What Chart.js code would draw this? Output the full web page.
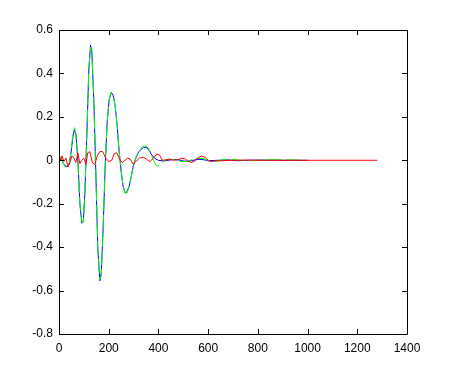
<!DOCTYPE html>
<html>
<head>
<meta charset="utf-8">
<script src="https://cdn.jsdelivr.net/npm/chart.js@4/dist/chart.umd.min.js"></script>
<style>
html,body{margin:0;padding:0;background:#fff;}
#wrap{width:450px;height:375px;position:relative;}
</style>
</head>
<body>
<div id="wrap"><canvas id="c" width="450" height="375"></canvas></div>
<script>
// ---- data ----
const blueX = [0,8,16,24,32,40,48,56,62,68,76,84,92,98,104,112,120,127,132,140,148,156,164,170,178,186,194,202,210,218,226,234,242,250,258,266,274,282,290,298,306,314,322,330,340,350,360,370,380,390,400,420,440,460,480,500,520,540,560,580,600,640,680,720,760,800,900,1000];
const blueY = [0,0.01,-0.01,-0.025,-0.03,-0.02,0.03,0.11,0.14,0.12,0,-0.2,-0.29,-0.28,-0.15,0.12,0.42,0.53,0.5,0.28,-0.05,-0.4,-0.555,-0.52,-0.3,-0.02,0.18,0.28,0.31,0.3,0.25,0.16,0.04,-0.05,-0.12,-0.15,-0.145,-0.12,-0.08,-0.03,0,0.025,0.04,0.05,0.06,0.06,0.05,0.03,0.015,0.005,0,-0.003,0,0.004,0.002,-0.003,-0.005,0,0.004,0.003,-0.002,0,0.002,-0.002,0,0.001,0,0];

const greenX = [0,8,16,24,32,40,48,56,62,68,76,84,92,98,104,112,120,127,132,140,148,156,164,170,178,186,194,202,210,218,226,234,242,250,258,266,274,282,290,298,306,314,322,330,340,350,360,370,380,390,398,406,416,426,440,460,480,500,520,540,560,580,600,620,640,660,700,740,780,820,880,940,980];
const greenY = [0,0.012,-0.008,-0.03,-0.035,-0.02,0.035,0.12,0.15,0.125,0,-0.2,-0.285,-0.285,-0.15,0.12,0.42,0.52,0.51,0.28,-0.05,-0.4,-0.55,-0.53,-0.3,-0.02,0.18,0.28,0.315,0.3,0.25,0.16,0.04,-0.05,-0.12,-0.15,-0.15,-0.12,-0.08,-0.03,0,0.027,0.045,0.056,0.065,0.066,0.055,0.03,0,-0.022,-0.027,-0.02,-0.008,0,0.005,0.004,-0.003,-0.006,-0.004,0.005,0.01,0.008,0,-0.006,-0.004,0.003,0.004,0,-0.002,0.002,0.003,0.002,0];

const redX = [0,6,12,20,28,36,44,52,60,68,76,84,92,100,108,116,124,134,144,154,164,176,188,200,212,222,232,244,254,266,276,286,298,310,324,340,352,366,380,394,404,416,430,444,460,480,496,508,520,532,544,556,572,588,600,612,630,660,690,720,760,800,1280];
const redY = [0.03,0,0.02,-0.005,0.01,-0.03,-0.01,0.02,0.01,-0.01,0.035,-0.015,0,0.01,-0.02,0.035,0.04,-0.01,-0.02,0.02,0.04,0.04,0.01,-0.006,0,0.03,0.035,0.005,-0.011,0,0.01,0.006,-0.017,-0.005,0.01,0.014,0.005,-0.006,0.01,0.029,0.025,0,0.002,0.005,0,0.003,0.01,0.006,-0.003,-0.01,-0.005,0.008,0.02,0.014,0,-0.006,-0.002,-0.002,0,0,0.001,0,0];

const xTicks = [0,200,400,600,800,1000,1200,1400];
const yTicks = [-0.8,-0.6,-0.4,-0.2,0,0.2,0.4,0.6];

const pts = (xs, ys) => xs.map((x, i) => ({x: x, y: ys[i]}));

const frame = {
  id: 'frame',
  afterDraw(chart) {
    const {ctx, chartArea: a, scales} = chart;
    ctx.save();
    ctx.strokeStyle = '#000';
    ctx.lineWidth = 1;
    ctx.beginPath();
    ctx.rect(Math.round(a.left) + 0.5, Math.round(a.top) + 0.5, Math.round(a.right - a.left), Math.round(a.bottom - a.top));
    ctx.stroke();
    const L = 5;
    ctx.beginPath();
    xTicks.forEach(v => {
      const px = Math.round(scales.x.getPixelForValue(v)) + 0.5;
      ctx.moveTo(px, a.bottom); ctx.lineTo(px, a.bottom - L);
      ctx.moveTo(px, a.top); ctx.lineTo(px, a.top + L);
    });
    yTicks.forEach(v => {
      const py = Math.round(scales.y.getPixelForValue(v)) + 0.5;
      ctx.moveTo(a.left, py); ctx.lineTo(a.left + L, py);
      ctx.moveTo(a.right, py); ctx.lineTo(a.right - L, py);
    });
    ctx.stroke();
    ctx.restore();
  }
};

new Chart(document.getElementById('c'), {
  type: 'scatter',
  data: {
    datasets: [
      {data: pts(redX, redY), showLine: true, borderColor: '#ff0000', borderWidth: 1, pointRadius: 0, order: 0},
      {data: pts(greenX, greenY), showLine: true, borderColor: '#00ff00', borderWidth: 1, borderDash: [14, 4], pointRadius: 0, order: 1},
      {data: pts(blueX, blueY), showLine: true, borderColor: '#0000ff', borderWidth: 1, pointRadius: 0, order: 2}
    ]
  },
  options: {
    responsive: false,
    animation: false,
    events: [],
    layout: {padding: {left: 0, right: 43, top: 30, bottom: 0}},
    plugins: {legend: {display: false}, tooltip: {enabled: false}},
    scales: {
      x: {
        type: 'linear', min: 0, max: 1400,
        afterBuildTicks: s => { s.ticks = xTicks.map(v => ({value: v})); },
        afterFit: s => { s.height = 41; },
        grid: {display: false, drawTicks: false},
        border: {display: false},
        ticks: {color: '#000', padding: 7, maxRotation: 0, font: {family: 'Liberation Sans', size: 12}, callback: v => String(v)}
      },
      y: {
        type: 'linear', min: -0.8, max: 0.6,
        afterBuildTicks: s => { s.ticks = yTicks.map(v => ({value: v})); },
        afterFit: s => { s.width = 59; },
        grid: {display: false, drawTicks: false},
        border: {display: false},
        ticks: {color: '#000', padding: 6, font: {family: 'Liberation Sans', size: 12}, callback: v => String(Number(v.toFixed(1)))}
      }
    }
  },
  plugins: [frame]
});
</script>
</body>
</html>
